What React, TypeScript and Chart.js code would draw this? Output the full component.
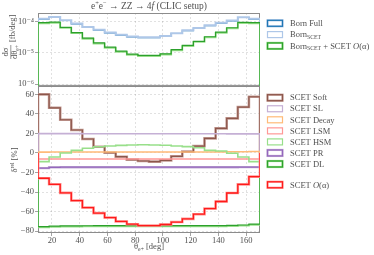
import React, { useEffect, useRef } from "react";
import { Chart, registerables } from "chart.js";
Chart.register(...registerables);

const FONT = "'Liberation Serif', 'DejaVu Serif', serif";
const TXT = "#505050";
const GRID = "rgba(0,0,0,0.15)";
const FRAME = "#8c8c8c";

// ---- data ----
const binEdges = [10, 18, 26, 34, 42, 50, 58, 66, 74, 82, 90, 98, 106, 114, 122, 130, 138, 146, 154, 162, 170];
const xTicks = [20, 40, 60, 80, 100, 120, 140, 160];
const topYTicks = [1e-6, 1e-5, 1e-4];
const topYTickLabels = ["10⁻⁶", "10⁻⁵", "10⁻⁴"];
const bottomYTicks = [-80, -60, -40, -20, 0, 20, 40, 60];

const bornFull = [1.21e-4, 1.38e-4, 1.09e-4, 8.5e-5, 6.6e-5, 5.35e-5, 4.4e-5, 3.7e-5, 3.25e-5, 3.1e-5, 3.1e-5, 3.4e-5, 4.2e-5, 5.15e-5, 6.1e-5, 7.5e-5, 9.0e-5, 1.06e-4, 1.36e-4, 1.2e-4];
const bornScet = [1.25e-4, 1.42e-4, 1.12e-4, 8.7e-5, 6.8e-5, 5.5e-5, 4.5e-5, 3.8e-5, 3.35e-5, 3.2e-5, 3.2e-5, 3.5e-5, 4.3e-5, 5.3e-5, 6.3e-5, 7.7e-5, 9.3e-5, 1.09e-4, 1.4e-4, 1.24e-4];
const bornScetPlusOa = [9.3e-5, 9.7e-5, 6.6e-5, 4.5e-5, 3.0e-5, 2.1e-5, 1.53e-5, 1.14e-5, 9.1e-6, 8.3e-6, 8.3e-6, 9.4e-6, 1.27e-5, 1.74e-5, 2.35e-5, 3.3e-5, 4.65e-5, 6.4e-5, 9.5e-5, 9.4e-5];
const bornFullPlusOa = [8.9e-5, 9.2e-5, 6.3e-5, 4.3e-5, 2.85e-5, 2.0e-5, 1.46e-5, 1.08e-5, 8.7e-6, 7.9e-6, 7.9e-6, 8.9e-6, 1.2e-5, 1.65e-5, 2.25e-5, 3.15e-5, 4.4e-5, 6.1e-5, 9.0e-5, 8.9e-5];

const scetSoft = [59.9, 46.2, 34.0, 23.5, 14.3, 6.4, 0.3, -3.8, -6.8, -8.2, -8.8, -7.5, -3.4, 1.4, 7.1, 15.0, 25.2, 35.4, 47.0, 57.5];
const scetSL = [19.8, 19.8, 19.8, 19.8, 19.7, 19.7, 19.7, 19.7, 19.7, 19.7, 19.7, 19.7, 19.7, 19.7, 19.7, 19.7, 19.7, 19.6, 19.6, 19.5];
const scetDecay = [0.9, 1.0, 1.0, 1.0, 1.0, 1.0, 1.0, 1.0, 1.0, 1.0, 1.0, 1.0, 1.0, 1.0, 1.0, 1.0, 1.1, 1.2, 1.3, 1.5];
const scetLSM = [-6.1, -6.1, -6.1, -6.1, -6.1, -6.1, -6.1, -6.1, -6.1, -6.1, -6.1, -6.1, -6.1, -6.1, -6.1, -6.1, -6.1, -6.1, -6.1, -6.1];
const scetHSM = [-8.8, -4.1, 0.0, 2.7, 4.8, 6.4, 7.1, 7.8, 8.2, 8.5, 8.2, 7.9, 7.1, 6.5, 5.4, 2.7, 2.0, -0.3, -4.1, -8.8];
const scetPR = [-15.5, -14.6, -14.5, -14.5, -14.5, -14.5, -14.5, -14.5, -14.5, -14.5, -14.5, -14.5, -14.5, -14.5, -14.5, -14.5, -14.5, -14.5, -14.4, -14.4];
const scetDL = [-75.3, -74.8, -74.6, -74.5, -74.4, -74.3, -74.3, -74.3, -74.3, -74.3, -74.3, -74.3, -74.3, -74.3, -74.3, -74.2, -74.2, -74.0, -73.6, -72.8];
const scetDLFull = [-75.9, -75.5, -75.3, -75.2, -75.1, -75.0, -75.0, -75.0, -75.0, -75.0, -75.0, -75.0, -75.0, -75.0, -75.0, -74.9, -74.9, -74.7, -74.3, -73.5];
const scetOa = [-25.8, -32.0, -40.8, -48.6, -55.8, -61.5, -66.0, -70.0, -72.8, -74.2, -74.2, -73.1, -70.6, -67.4, -62.6, -56.8, -49.6, -40.9, -32.1, -24.2];

// ---- helpers ----
type Seg = { t: string; sub?: boolean; sup?: boolean; it?: boolean };
type LegendItem = { segs: Seg[]; color: string; halo?: string; slot: number };

function setFont(ctx: CanvasRenderingContext2D, size: number, it?: boolean) {
  ctx.font = `${it ? "italic " : ""}${size}px ${FONT}`;
}
function segSize(s: Seg, size: number) {
  return s.sub || s.sup ? size * 0.68 : size;
}
function richWidth(ctx: CanvasRenderingContext2D, segs: Seg[], size: number) {
  let w = 0;
  for (const s of segs) {
    setFont(ctx, segSize(s, size), s.it);
    w += ctx.measureText(s.t).width;
  }
  return w;
}
function drawRich(ctx: CanvasRenderingContext2D, segs: Seg[], x: number, y: number, size: number, align: "left" | "center") {
  const w = richWidth(ctx, segs, size);
  let cx = align === "center" ? x - w / 2 : x;
  ctx.textAlign = "left";
  ctx.textBaseline = "middle";
  ctx.fillStyle = TXT;
  for (const s of segs) {
    setFont(ctx, segSize(s, size), s.it);
    const dy = s.sub ? size * 0.3 : s.sup ? -size * 0.33 : 0;
    ctx.fillText(s.t, cx, y + dy);
    cx += ctx.measureText(s.t).width;
  }
}

function stepPoints(vals: number[], base: number) {
  const pts: { x: number; y: number }[] = [{ x: binEdges[0], y: base }];
  vals.forEach((v, i) => {
    pts.push({ x: binEdges[i], y: v });
    pts.push({ x: binEdges[i + 1], y: v });
  });
  pts.push({ x: binEdges[binEdges.length - 1], y: base });
  return pts;
}
function lineDs(label: string, vals: number[], base: number, color: string, width: number) {
  return {
    label,
    data: stepPoints(vals, base),
    borderColor: color,
    backgroundColor: color,
    borderWidth: width,
    pointRadius: 0,
    pointHoverRadius: 0,
    fill: false,
    tension: 0,
    borderJoinStyle: "miter" as const,
    borderCapStyle: "butt" as const,
  };
}

type DecorCfg = {
  legend: LegendItem[];
  legendTop: number;
  legendStep: number;
  draw: (ctx: CanvasRenderingContext2D, area: any) => void;
};

function makeDecor(cfg: DecorCfg) {
  return {
    id: "decor",
    beforeDatasetsDraw(chart: any) {
      const { ctx, chartArea: a } = chart;
      ctx.save();
      ctx.strokeStyle = FRAME;
      ctx.lineWidth = 1;
      ctx.strokeRect(a.left + 0.5, a.top + 0.5, a.right - a.left - 1, a.bottom - a.top - 1);
      ctx.restore();
    },
    afterDraw(chart: any) {
      const { ctx, chartArea: a } = chart;
      ctx.save();
      for (const it of cfg.legend) {
        const y = a.top + cfg.legendTop + it.slot * cfg.legendStep;
        const bx = a.right + 7.5;
        if (it.halo) {
          ctx.strokeStyle = it.halo;
          ctx.lineWidth = 2.2;
          ctx.strokeRect(bx, y - 3, 15, 6);
        }
        ctx.strokeStyle = it.color;
        ctx.lineWidth = 1.2;
        ctx.strokeRect(bx, y - 3, 15, 6);
        drawRich(ctx, it.segs, a.right + 30, y + 0.5, 8.5, "left");
      }
      cfg.draw(ctx, a);
      ctx.restore();
    },
  };
}

const tickFont = { family: FONT, size: 8.5 };

export default function App() {
  const topRef = useRef<HTMLCanvasElement>(null);
  const botRef = useRef<HTMLCanvasElement>(null);

  useEffect(() => {
    const topDatasets = [
      lineDs("Born Full", bornFull, 1e-9, "#1f77b4", 1.1),
      lineDs("Born SCET", bornScet, 1e-9, "#aec7e8", 2.0),
      lineDs("Born Full + SCET O(α)", bornFullPlusOa, 1e-9, "#98df8a", 1.8),
      lineDs("Born SCET + SCET O(α)", bornScetPlusOa, 1e-9, "#2ca02c", 1.2),
    ].reverse();

    const topDecor = makeDecor({
      legend: [
        { segs: [{ t: "Born Full" }], color: "#1f77b4", halo: "#aec7e8", slot: 0 },
        { segs: [{ t: "Born" }, { t: "SCET", sub: true }], color: "#aec7e8", slot: 1 },
        {
          segs: [{ t: "Born" }, { t: "SCET", sub: true }, { t: " + SCET " }, { t: "O", it: true }, { t: "(α)" }],
          color: "#2ca02c",
          halo: "#98df8a",
          slot: 2,
        },
      ],
      legendTop: 10.3,
      legendStep: 11.3,
      draw: (ctx, a) => {
        drawRich(
          ctx,
          [{ t: "e" }, { t: "+", sup: true }, { t: "e" }, { t: "−", sup: true }, { t: " → ZZ → 4" }, { t: "f", it: true }, { t: " (CLIC setup)" }],
          (a.left + a.right) / 2,
          6.5,
          9.5,
          "center"
        );
        // y label: fraction dσ/dθ_e+ [fb/deg], rotated
        ctx.save();
        ctx.translate(10.5, 44);
        ctx.rotate(-Math.PI / 2);
        drawRich(ctx, [{ t: "dσ" }], -8, -4.3, 8.5, "center");
        drawRich(ctx, [{ t: "dθ" }, { t: "e+", sub: true }], -8, 4.3, 8.5, "center");
        ctx.strokeStyle = TXT;
        ctx.lineWidth = 0.6;
        ctx.beginPath();
        ctx.moveTo(-15, 0.3);
        ctx.lineTo(-1, 0.3);
        ctx.stroke();
        drawRich(ctx, [{ t: "[fb/deg]" }], 2, 2, 8.5, "left");
        ctx.restore();
      },
    });

    const topChart = new Chart(topRef.current!, {
      type: "line",
      data: { datasets: topDatasets as any },
      plugins: [topDecor as any],
      options: {
        animation: false,
        responsive: false,
        events: [],
        layout: { padding: { top: 13, right: 114, bottom: 6, left: 0 } },
        plugins: { legend: { display: false }, tooltip: { enabled: false }, title: { display: false } },
        scales: {
          x: {
            type: "linear",
            min: 10,
            max: 170,
            afterBuildTicks: (s: any) => {
              s.ticks = xTicks.map((v) => ({ value: v }));
            },
            afterFit: (s: any) => {
              s.height = 0;
            },
            ticks: { display: false },
            grid: { color: GRID, drawTicks: false, lineWidth: 0.8 },
            border: { display: false, dash: [2, 2] },
          },
          y: {
            type: "logarithmic",
            min: 8.8e-7,
            max: 1.9e-4,
            afterBuildTicks: (s: any) => {
              s.ticks = topYTicks.map((v) => ({ value: v }));
            },
            afterFit: (s: any) => {
              s.width = 38;
            },
            ticks: {
              font: tickFont,
              color: TXT,
              padding: 1,
              callback: (v: any) => {
                const i = topYTicks.findIndex((t) => Math.abs(t - v) / t < 1e-6);
                return i >= 0 ? topYTickLabels[i] : "";
              },
            },
            grid: { color: GRID, lineWidth: 0.8, tickLength: 3, tickColor: FRAME, tickBorderDash: [] },
            border: { display: false, dash: [2, 2] },
          },
        },
      },
    });

    const botDatasets = [
      lineDs("soft halo", scetSoft, 0, "#c49c94", 2.6),
      lineDs("SCET Soft", scetSoft, 0, "#8c564b", 1.2),
      lineDs("SCET SL", scetSL, 0, "#c5b0d5", 1.6),
      lineDs("SCET Decay", scetDecay, 0, "#ffbb78", 1.6),
      lineDs("SCET LSM", scetLSM, 0, "#ff9896", 1.6),
      lineDs("SCET HSM", scetHSM, 0, "#98df8a", 1.6),
      lineDs("pr halo", scetPR, 0, "#c5b0d5", 2.4),
      lineDs("SCET PR", scetPR, 0, "#9467bd", 1.2),
      lineDs("dl full", scetDLFull, 0, "#98df8a", 1.8),
      lineDs("SCET DL", scetDL, 0, "#2ca02c", 1.2),
      lineDs("oa halo", scetOa, 0, "#ff9896", 2.6),
      lineDs("SCET O(α)", scetOa, 0, "#ff1a1a", 1.3),
    ].reverse();

    const lbl = (t: string) => [{ t }];
    const botDecor = makeDecor({
      legend: [
        { segs: lbl("SCET Soft"), color: "#8c564b", halo: "#c49c94", slot: 0 },
        { segs: lbl("SCET SL"), color: "#c5b0d5", slot: 1 },
        { segs: lbl("SCET Decay"), color: "#ffbb78", slot: 2 },
        { segs: lbl("SCET LSM"), color: "#ff9896", slot: 3 },
        { segs: lbl("SCET HSM"), color: "#98df8a", slot: 4 },
        { segs: lbl("SCET PR"), color: "#9467bd", halo: "#c5b0d5", slot: 5 },
        { segs: lbl("SCET DL"), color: "#2ca02c", halo: "#98df8a", slot: 6 },
        { segs: [{ t: "SCET " }, { t: "O", it: true }, { t: "(α)" }], color: "#ff1a1a", halo: "#ff9896", slot: 7.88 },
      ],
      legendTop: 11.7,
      legendStep: 11.05,
      draw: (ctx, a) => {
        drawRich(ctx, [{ t: "θ" }, { t: "e+", sub: true }, { t: " [deg]" }], (a.left + a.right) / 2, 168, 8.5, "center");
        ctx.save();
        ctx.translate(15, 81);
        ctx.rotate(-Math.PI / 2);
        drawRich(ctx, [{ t: "δ" }, { t: "rel", sup: true }, { t: " [%]" }], 0, 0, 8.5, "center");
        ctx.restore();
      },
    });

    const botChart = new Chart(botRef.current!, {
      type: "line",
      data: { datasets: botDatasets as any },
      plugins: [botDecor as any],
      options: {
        animation: false,
        responsive: false,
        events: [],
        layout: { padding: { top: 7, right: 114, bottom: 0, left: 0 } },
        plugins: { legend: { display: false }, tooltip: { enabled: false }, title: { display: false } },
        scales: {
          x: {
            type: "linear",
            min: 10,
            max: 170,
            afterBuildTicks: (s: any) => {
              s.ticks = xTicks.map((v) => ({ value: v }));
            },
            afterFit: (s: any) => {
              s.height = 22;
            },
            ticks: { font: tickFont, color: TXT, padding: 0, maxRotation: 0 },
            grid: { color: GRID, lineWidth: 0.8, tickLength: 3, tickColor: FRAME, tickBorderDash: [] },
            border: { display: false, dash: [2, 2] },
          },
          y: {
            type: "linear",
            min: -81.8,
            max: 68.5,
            afterBuildTicks: (s: any) => {
              s.ticks = bottomYTicks.map((v) => ({ value: v }));
            },
            afterFit: (s: any) => {
              s.width = 38;
            },
            ticks: {
              font: tickFont,
              color: TXT,
              padding: 1,
              callback: (v: any) => (v < 0 ? "−" + Math.abs(v) : String(v)),
            },
            grid: { color: GRID, lineWidth: 0.8, tickLength: 3, tickColor: FRAME, tickBorderDash: [] },
            border: { display: false, dash: [2, 2] },
          },
        },
      },
    });

    return () => {
      topChart.destroy();
      botChart.destroy();
    };
  }, []);

  return (
    <div style={{ position: "fixed", left: 0, top: 0, width: 374, height: 255, background: "#fff" }}>
      <canvas ref={botRef} width={374} height={176} style={{ position: "absolute", left: 0, top: 79, width: 374, height: 176 }} />
      <canvas ref={topRef} width={374} height={92} style={{ position: "absolute", left: 0, top: 0, width: 374, height: 92 }} />
    </div>
  );
}
